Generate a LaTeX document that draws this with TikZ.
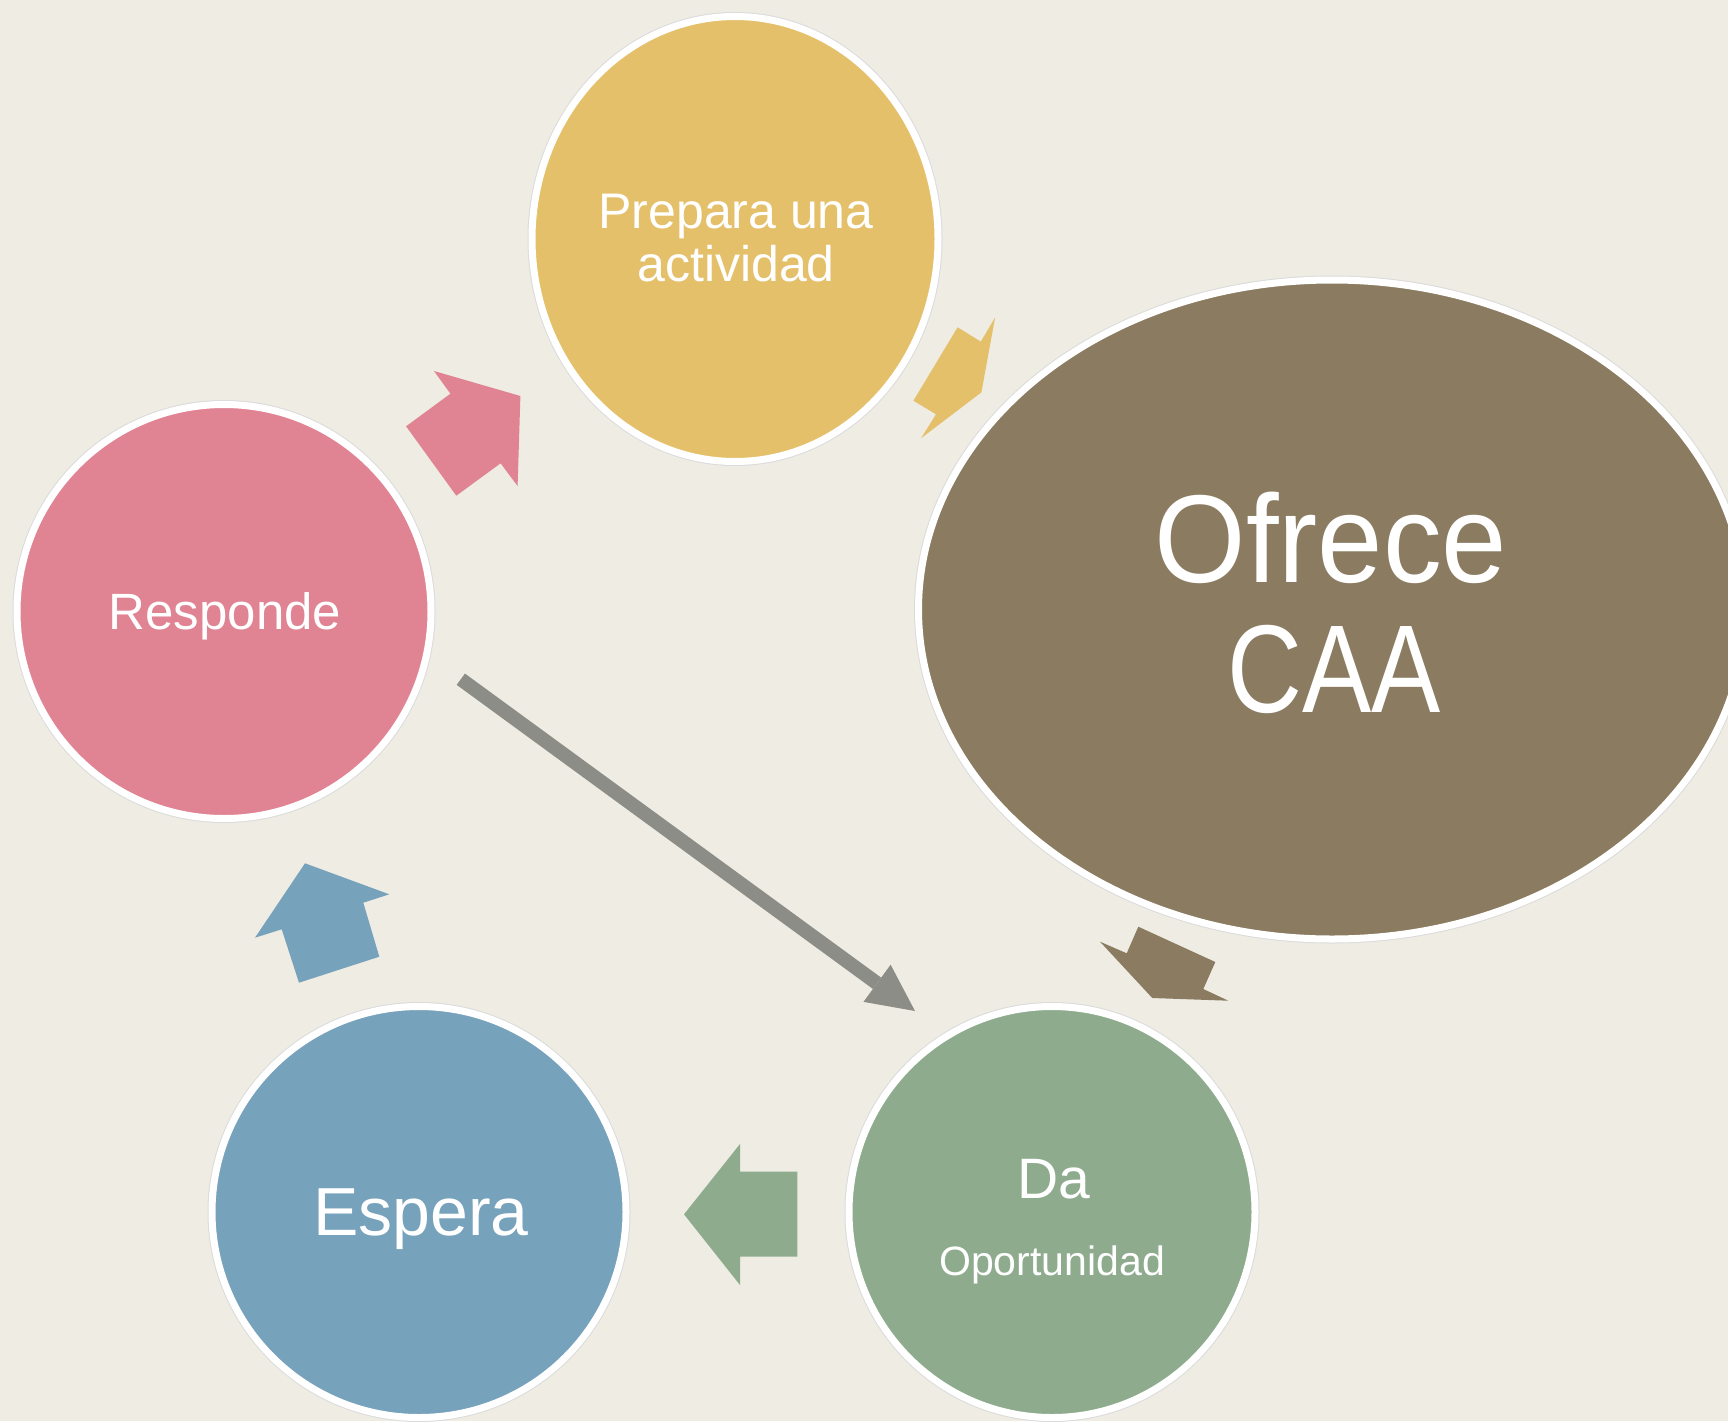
\documentclass[tikz,border=0pt]{standalone}
\usepackage{fontspec}
\setmainfont{Liberation Sans}
\usetikzlibrary{shapes.geometric,arrows.meta}
\definecolor{bgc}{HTML}{EFECE3}
\definecolor{yelc}{HTML}{E5C06B}
\definecolor{pinc}{HTML}{E08494}
\definecolor{brnc}{HTML}{8A7B61}
\definecolor{grnc}{HTML}{8EAC8D}
\definecolor{bluc}{HTML}{76A2BC}
\definecolor{gryc}{HTML}{8C8D86}
\begin{document}
\begin{tikzpicture}[x=1pt,y=-1pt,
  bubble/.style={ellipse, draw=white, line width=7pt, inner sep=0pt, outer sep=0pt,
    preaction={draw=black!14, line width=9pt}},
  lbl/.style={text=white, anchor=base, inner sep=0pt},
  connector/.style={gryc, line width=14pt, -{Triangle[length=47pt,width=46pt,line width=0pt]}}]
\useasboundingbox (0,0) rectangle (1728,1421);
\fill[bgc] (0,0) rectangle (1728,1421);
\begin{scope}
\clip (0,0) rectangle (1728,1421);
% bubbles
\node[bubble, fill=yelc, minimum width=406pt, minimum height=445pt] (prep) at (735,239) {};
\node[bubble, fill=pinc, minimum width=414pt, minimum height=414pt] (resp) at (224,611.5) {};
\node[bubble, fill=brnc, minimum width=827pt, minimum height=659pt] (ofre) at (1332,609.5) {};
\node[bubble, fill=grnc, minimum width=406pt, minimum height=411pt] (da) at (1052,1212) {};
\node[bubble, fill=bluc, minimum width=414pt, minimum height=411pt] (esp) at (419,1212) {};
% labels
\node[lbl, font=\fontsize{50}{53}\selectfont] (tprep1) at (736,228) {Prepara una};
\node[lbl, font=\fontsize{50}{53}\selectfont] (tprep2) at (736,281) {actividad};
\node[lbl, font=\fontsize{51}{55}\selectfont] (tresp) at (225,629) {Responde};
\node[lbl, font=\fontsize{68}{72}\selectfont] (tesp) at (421,1235) {Espera};
\node[lbl, font=\fontsize{57}{60}\selectfont] (tda1) at (1054,1198) {Da};
\node[lbl, font=\fontsize{41}{45}\selectfont] (tda2) at (1052,1275) {Oportunidad};
\node[lbl, font=\fontsize{125}{130}\selectfont, xscale=0.94, transform shape] (tofr1) at (1331,582) {Ofrece};
\node[lbl, font=\fontsize{125}{130}\selectfont, xscale=0.83, transform shape] (tofr2) at (1334,712) {CAA};
% block arrows
\fill[pinc] (434,371) -- (520.4,396) -- (517.6,486) -- (500.6,463.3) -- (456.3,495.7) -- (406.1,426.3) -- (450.4,393.7) -- cycle;
\fill[yelc] (995.1,317.4) -- (981.4,392.3) -- (921,438.3) -- (936,414.3) -- (913.4,400.7) -- (957.6,327.3) -- (980.8,341.6) -- cycle;
\fill[brnc] (1100,941.7) -- (1126.7,953.3) -- (1138.3,926.7) -- (1215.3,962) -- (1203.3,989) -- (1228.3,1000.7) -- (1152.3,998) -- cycle;
\fill[grnc] (740,1144) -- (740,1171.7) -- (797.3,1171.7) -- (797.3,1256.7) -- (740,1256.7) -- (740,1285) -- (684,1214.3) -- cycle;
\fill[bluc] (305,863.3) -- (389.3,894.3) -- (363.3,902.7) -- (379.3,956.7) -- (299,982.7) -- (281.7,929.3) -- (255,937.7) -- cycle;
% connector
\coordinate (gs) at (460.8,679.2);
\coordinate (ge) at (915,1011);
\draw[connector] (gs) -- (ge);
\end{scope}
\end{tikzpicture}
\end{document}
